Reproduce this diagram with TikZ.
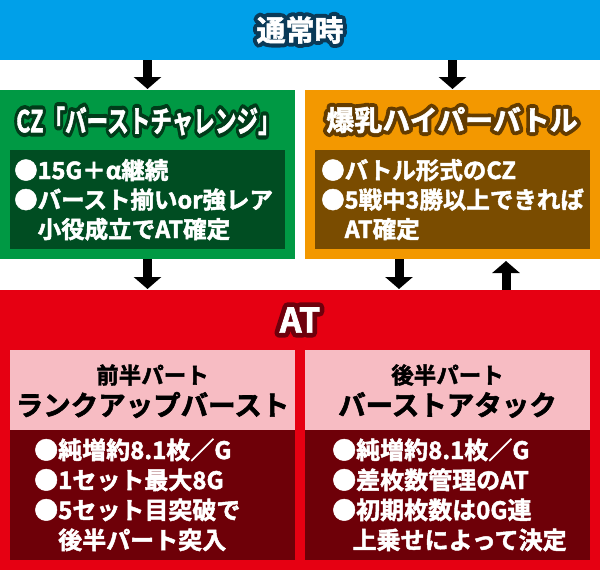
\documentclass[tikz,border=0pt]{standalone}
\usepackage{fontspec}
\setmainfont{Noto Sans CJK JP}[BoldFont={Noto Sans CJK JP Bold}, BoldFeatures={FakeBold=2}]
\newfontface\rimface{Noto Sans CJK JP Bold}[FakeBold=30]
\usetikzlibrary{arrows.meta}

\definecolor{skyband}{RGB}{0,160,233}
\definecolor{skyrim}{RGB}{10,58,88}
\definecolor{czgreen}{RGB}{0,153,68}
\definecolor{czdark}{RGB}{0,77,34}
\definecolor{czrim}{RGB}{0,60,26}
\definecolor{battleorange}{RGB}{243,152,0}
\definecolor{battlebrown}{RGB}{122,76,0}
\definecolor{battlerim}{RGB}{100,60,0}
\definecolor{atred}{RGB}{230,0,18}
\definecolor{atpink}{RGB}{247,188,195}
\definecolor{atdark}{RGB}{110,0,8}
\definecolor{atrim}{RGB}{110,0,12}

\newcommand{\rimmed}[6][]{%
    \node[inner sep=0pt,#1,text=#5,line join=round,miter limit=1,
        font=\rimface\fontsize{#4}{#4}\selectfont] at (#3) {#6};
    \node[inner sep=0pt,#1,text=white,font=\bfseries\fontsize{#4}{#4}\selectfont] (#2) at (#3) {#6};}

\begin{document}
\begin{tikzpicture}[
            x=1pt, y=-1pt,
            box/.style={anchor=north west, inner sep=0pt, outer sep=0pt},
            points/.style={anchor=base west, align=left, inner sep=0pt, text=white,
                    font=\bfseries\fontsize{23.5}{29.5}\selectfont},
            part/.style={font=\bfseries\fontsize{22.5}{24}\selectfont, inner sep=0pt},
            partname/.style={font=\bfseries\fontsize{27.5}{29}\selectfont, inner sep=0pt},
            push/.style={line width=9pt, -{Triangle[width=27pt,length=12pt]}}
        ]
        \useasboundingbox (0,0) rectangle (600,570);

        \node[box, fill=skyband, minimum width=600pt, minimum height=60pt] (normal) at (0,0) {};
        \node[box, fill=czgreen, minimum width=295pt, minimum height=169pt] (cz) at (0,90) {};
        \node[box, fill=czdark, minimum width=275pt, minimum height=99pt] (czbody) at (10,150) {};
        \node[box, fill=battleorange, minimum width=295pt, minimum height=169pt] (battle) at (305,90) {};
        \node[box, fill=battlebrown, minimum width=275pt, minimum height=99pt] (battlebody) at (315,150) {};
        \node[box, fill=atred, minimum width=600pt, minimum height=280pt] (at) at (0,290) {};
        \node[box, fill=atpink, minimum width=285pt, minimum height=80pt] (firsthalf) at (10,350) {};
        \node[box, fill=atdark, minimum width=285pt, minimum height=130pt] (firstbody) at (10,430) {};
        \node[box, fill=atpink, minimum width=285pt, minimum height=80pt] (secondhalf) at (305,350) {};
        \node[box, fill=atdark, minimum width=285pt, minimum height=130pt] (secondbody) at (305,430) {};

        \rimmed{normaltitle}{300,30}{29}{skyrim}{通常時}
        \rimmed[xscale=0.72]{cztitle}{148,121}{30}{czrim}{CZ「バーストチャレンジ」}
        \rimmed{battletitle}{452,120}{28}{battlerim}{爆乳ハイパーバトル}
        \rimmed{attitle}{300,320}{34}{atrim}{AT}

        \node[points] (czpoints) at (14,238) {●15G＋α継続\\●バースト揃いor強レア\\\hspace*{1em}小役成立でAT確定};
        \node[points] (battlepoints) at (321,238) {●バトル形式のCZ\\●5戦中3勝以上できれば\\\hspace*{1em}AT確定};

        \node[part] (firstpart) at (152.5,375) {前半パート};
        \node[partname] (firstname) at (152.5,405) {ランクアップバースト};
        \node[part] (secondpart) at (447.5,375) {後半パート};
        \node[partname] (secondname) at (447.5,405) {バーストアタック};

        \node[points, font=\bfseries\fontsize{24}{30}\selectfont] (firstpoints) at (34,549)
            {●純増約8.1枚／G\\●1セット最大8G\\●5セット目突破で\\\hspace*{1em}後半パート突入};
        \node[points, font=\bfseries\fontsize{24}{30}\selectfont] (secondpoints) at (332,549)
            {●純増約8.1枚／G\\●差枚数管理のAT\\●初期枚数は0G連\\\hspace*{0.85em}上乗せによって決定};

        \draw[push] (normal.south -| cz.north) -- ([yshift=1pt]cz.north);
        \draw[push] (normal.south -| battle.north) -- ([yshift=1pt]battle.north);
        \draw[push] (cz.south) -- ([yshift=1pt]cz.south |- at.north);
        \draw[push] ([xshift=-53.5pt]battle.south) -- ([xshift=-53.5pt,yshift=1pt]battle.south |- at.north);
        \draw[push] ([xshift=53.5pt]battle.south |- at.north) -- ([xshift=53.5pt,yshift=-2pt]battle.south);
    \end{tikzpicture}
\end{document}
